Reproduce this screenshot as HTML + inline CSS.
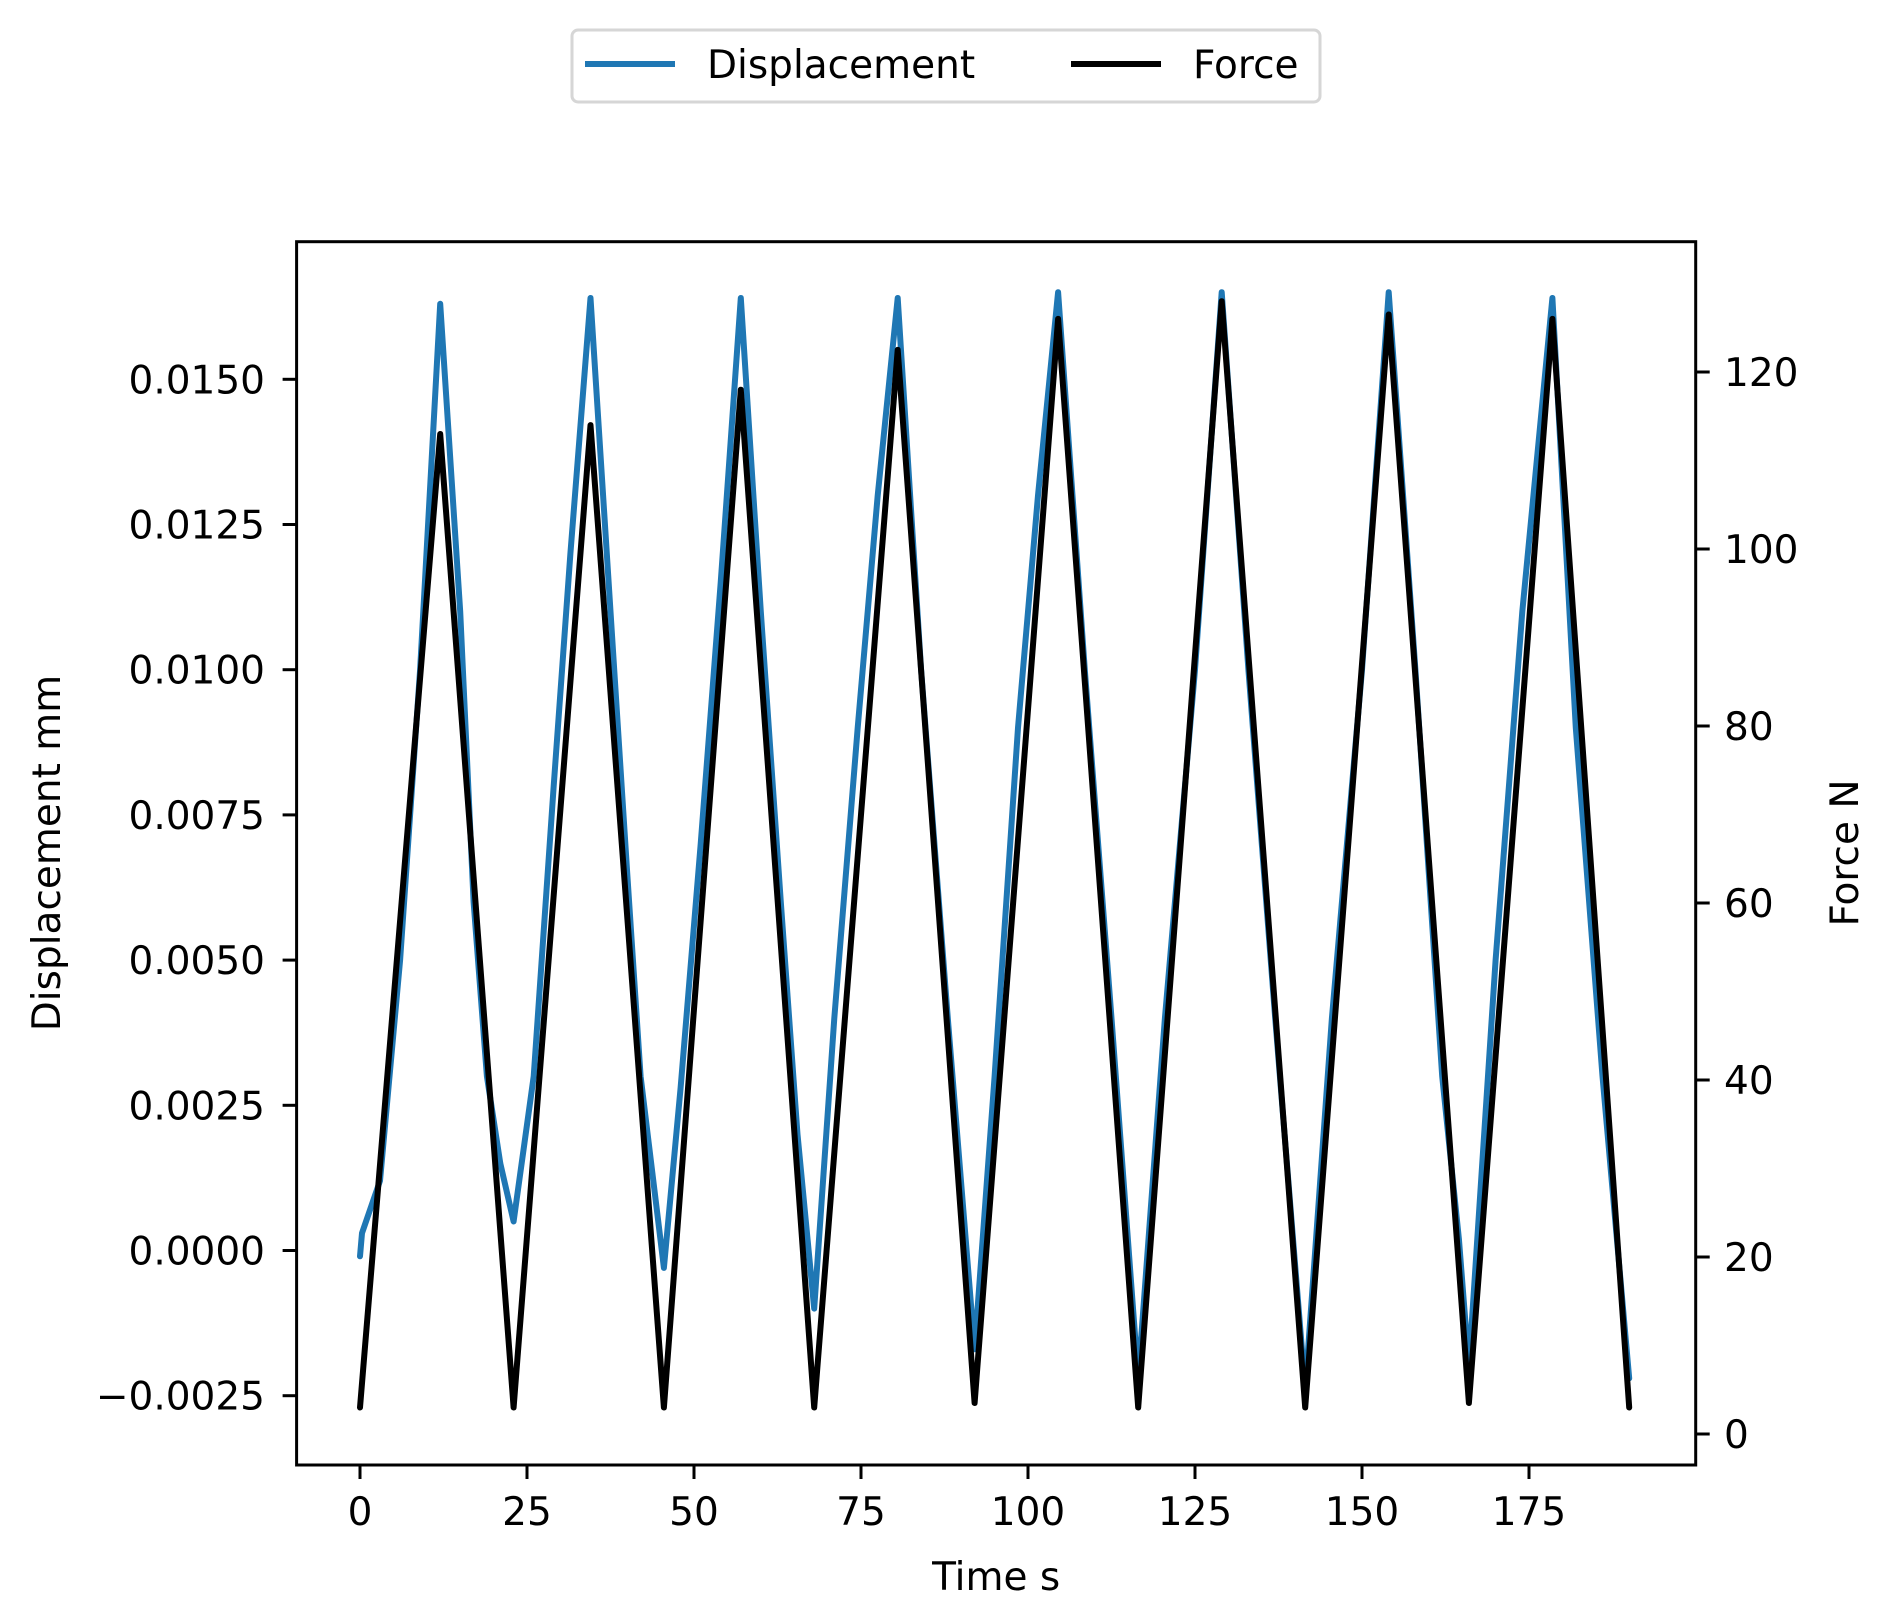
<!DOCTYPE html>
<html><head><meta charset="utf-8"><style>
html,body{margin:0;padding:0;background:#fff;}
svg{display:block;font-family:"DejaVu Sans","Liberation Sans",sans-serif;}
</style></head><body>
<svg id="chart" width="1890" height="1621" viewBox="0 0 1890 1621">
<rect x="0" y="0" width="1890" height="1621" fill="#fff"/>
<g id="series"></g>
<g id="axes"></g>
</svg>
<script>
const timeTicks = [0,25,50,75,100,125,150,175];
const dispTicks = [-0.0025,0,0.0025,0.005,0.0075,0.01,0.0125,0.015];
const dispTickLabels = ["\u22120.0025","0.0000","0.0025","0.0050","0.0075","0.0100","0.0125","0.0150"];
const forceTicks = [0,20,40,60,80,100,120];
const dispTime = [0,0.3,3,6,9,12,15,17,19,21,23,26,29,31.5,34.5,37.5,40,42,45.5,48,51,54,57,60,63,65.5,68,71,74.5,77.5,80.5,84,88,92,95,98.5,101.5,104.5,108.5,112.5,116.5,120.5,125,129,133,137,141.5,145.5,150,154,158,162,164.5,166,170,174,178.5,182,186,190];
const dispValues = [-0.0001,0.0003,0.0012,0.0050,0.0100,0.0163,0.0110,0.0060,0.0030,0.0015,0.0005,0.0030,0.0080,0.0120,0.0164,0.0110,0.0065,0.0030,-0.0003,0.0028,0.0070,0.0115,0.0164,0.0110,0.0060,0.0020,-0.0010,0.0040,0.0090,0.0130,0.0164,0.0100,0.0040,-0.0017,0.0030,0.0090,0.0130,0.0165,0.0100,0.0040,-0.0022,0.0040,0.0100,0.0165,0.0100,0.0040,-0.0024,0.0040,0.0100,0.0165,0.0100,0.0030,0.0002,-0.0020,0.0050,0.0110,0.0164,0.0090,0.0030,-0.0022];
const forceTime = [0,12,23,34.5,45.5,57,68,80.5,92,104.5,116.5,129,141.5,154,166,178.5,190];
const forceValues = [3,113,3,114,3,118,3,122.5,3.5,126,3,128,3,126.5,3.5,126,3];

const NS="http://www.w3.org/2000/svg";
const L=296.6,R=1695.7,T=241.7,B=1465;
const xS=t=>360+t*6.68;
const yD=v=>379.3-(v-0.015)/0.0025*145.2;
const yF=v=>1434-v*8.85;
function mk(tag,attrs,parent){const e=document.createElementNS(NS,tag);for(const k in attrs)e.setAttribute(k,attrs[k]);parent.appendChild(e);return e;}
const ser=document.getElementById('series'),ax=document.getElementById('axes');

let dp=dispTime.map((t,i)=>xS(t).toFixed(1)+','+yD(dispValues[i]).toFixed(1)).join(' ');
const dl=mk('polyline',{points:dp,fill:'none',stroke:'#1f77b4','stroke-width':6,'stroke-linejoin':'round','stroke-linecap':'round'},ser);


let fp=forceTime.map((t,i)=>xS(t).toFixed(1)+','+yF(forceValues[i]).toFixed(1)).join(' ');
const fl=mk('polyline',{points:fp,fill:'none',stroke:'#000','stroke-width':6,'stroke-linejoin':'round','stroke-linecap':'round'},ser);



const frame=mk('rect',{x:L,y:T,width:R-L,height:B-T,fill:'none',stroke:'#000','stroke-width':3},ax);



timeTicks.forEach(t=>{const x=xS(t);
 mk('line',{x1:x,y1:B,x2:x,y2:B+14,stroke:'#000','stroke-width':3},ax);
 const tx=mk('text',{x:x,y:1525,'font-size':39,'text-anchor':'middle'},ax);tx.textContent=t;
 
 
});
dispTicks.forEach((v,i)=>{const y=yD(v);
 mk('line',{x1:L-14,y1:y,x2:L,y2:y,stroke:'#000','stroke-width':3},ax);
 const tx=mk('text',{x:265,y:y+14,'font-size':39,'text-anchor':'end'},ax);tx.textContent=dispTickLabels[i];
 
 
});
forceTicks.forEach(v=>{const y=yF(v);
 mk('line',{x1:R,y1:y,x2:R+14,y2:y,stroke:'#000','stroke-width':3},ax);
 const tx=mk('text',{x:1724,y:y+14,'font-size':39},ax);tx.textContent=v;
 
 
});
const xt=mk('text',{x:(L+R)/2,y:1590,'font-size':39,'text-anchor':'middle'},ax);xt.textContent='Time s';


const yt=mk('text',{x:0,y:0,'font-size':39,'text-anchor':'middle',transform:'translate(60,853) rotate(-90)'},ax);yt.textContent='Displacement mm';


const ft=mk('text',{x:0,y:0,'font-size':39,'text-anchor':'middle',transform:'translate(1858,853) rotate(-90)'},ax);ft.textContent='Force N';



const lg=mk('g',{},ax);


mk('rect',{x:572,y:30,width:748,height:72,rx:6,fill:'#fff',stroke:'#d6d6d6','stroke-width':3},lg);
mk('line',{x1:585,y1:64,x2:675,y2:64,stroke:'#1f77b4','stroke-width':6},lg);
const l1=mk('text',{x:707,y:78,'font-size':39},lg);l1.textContent='Displacement';


mk('line',{x1:1071,y1:64,x2:1161,y2:64,stroke:'#000','stroke-width':6},lg);
const l2=mk('text',{x:1193,y:78,'font-size':39},lg);l2.textContent='Force';


</script>
</body></html>
